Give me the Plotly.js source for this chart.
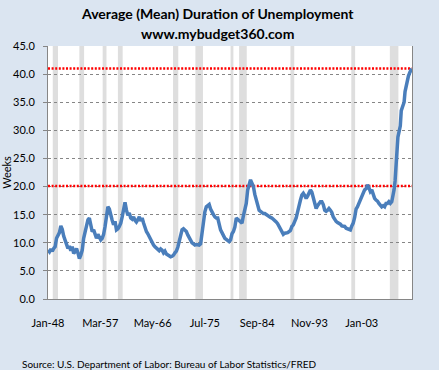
<!DOCTYPE html>
<html>
<head>
<meta charset="utf-8">
<script src="https://cdn.plot.ly/plotly-3.0.1.min.js"></script>
<style>html,body{margin:0;padding:0;background:#DBE5F1;}#chart{width:439px;height:370px;}</style>
</head>
<body>
<div id="chart"></div>
<script>
// Average (mean) duration of unemployment, weeks
var dates = [
"1948-01","1948-04","1948-07","1948-10","1949-01","1949-04","1949-07","1949-10",
"1950-01","1950-04","1950-07","1950-10","1951-01","1951-04","1951-07","1951-10",
"1952-01","1952-04","1952-07","1952-10","1953-01","1953-04","1953-07","1953-10",
"1954-01","1954-04","1954-07","1954-10","1955-01","1955-04","1955-07","1955-10",
"1956-01","1956-04","1956-07","1956-10","1957-01","1957-04","1957-07","1957-10",
"1958-01","1958-04","1958-07","1958-10","1959-01","1959-04","1959-07","1959-10",
"1960-01","1960-04","1960-07","1960-10","1961-01","1961-04","1961-07","1961-10",
"1962-01","1962-04","1962-07","1962-10","1963-01","1963-04","1963-07","1963-10",
"1964-01","1964-04","1964-07","1964-10","1965-01","1965-04","1965-07","1965-10",
"1966-01","1966-04","1966-07","1966-10","1967-01","1967-04","1967-07","1967-10",
"1968-01","1968-04","1968-07","1968-10","1969-01","1969-04","1969-07","1969-10",
"1970-01","1970-04","1970-07","1970-10","1971-01","1971-04","1971-07","1971-10",
"1972-01","1972-04","1972-07","1972-10","1973-01","1973-04","1973-07","1973-10",
"1974-01","1974-04","1974-07","1974-10","1975-01","1975-04","1975-07","1975-10",
"1976-01","1976-04","1976-07","1976-10","1977-01","1977-04","1977-07","1977-10",
"1978-01","1978-04","1978-07","1978-10","1979-01","1979-04","1979-07","1979-10",
"1980-01","1980-04","1980-07","1980-10","1981-01","1981-04","1981-07","1981-10",
"1982-01","1982-04","1982-07","1982-10","1983-01","1983-04","1983-07","1983-10",
"1984-01","1984-04","1984-07","1984-10","1985-01","1985-04","1985-07","1985-10",
"1986-01","1986-04","1986-07","1986-10","1987-01","1987-04","1987-07","1987-10",
"1988-01","1988-04","1988-07","1988-10","1989-01","1989-04","1989-07","1989-10",
"1990-01","1990-04","1990-07","1990-10","1991-01","1991-04","1991-07","1991-10",
"1992-01","1992-04","1992-07","1992-10","1993-01","1993-04","1993-07","1993-10",
"1994-01","1994-04","1994-07","1994-10","1995-01","1995-04","1995-07","1995-10",
"1996-01","1996-04","1996-07","1996-10","1997-01","1997-04","1997-07","1997-10",
"1998-01","1998-04","1998-07","1998-10","1999-01","1999-04","1999-07","1999-10",
"2000-01","2000-04","2000-07","2000-10","2001-01","2001-04","2001-07","2001-10",
"2002-01","2002-04","2002-07","2002-10","2003-01","2003-04","2003-07","2003-10",
"2004-01","2004-04","2004-07","2004-10","2005-01","2005-04","2005-07","2005-10",
"2006-01","2006-04","2006-07","2006-10","2007-01","2007-04","2007-07","2007-10",
"2008-01","2008-04","2008-07","2008-09","2008-11","2009-01","2009-03","2009-05",
"2009-08","2009-10","2009-12","2010-03","2010-06","2010-08","2010-12","2011-03",
"2011-06","2011-10"
];
var weeks = [
8.7,8.4,8.9,8.5, 9.0,9.3,10.8,11.5,
11.8,13.0,12.4,11.2, 10.5,10.0,9.0,9.4,
8.6,9.3,8.1,8.4, 9.0,8.2,7.2,7.8,
8.7,10.8,12.0,13.0, 14.1,14.4,12.8,12.0,
12.3,11.6,10.8,11.5, 11.1,10.5,10.8,11.5,
12.9,15.0,16.4,16.0, 14.6,14.0,13.2,13.8,
12.3,12.5,12.9,13.5, 14.6,16.0,17.2,15.8,
14.9,15.3,14.4,14.2, 14.6,14.0,13.7,14.1,
14.6,13.9,14.4,13.5, 12.6,12.0,11.6,11.0,
10.5,10.2,9.6,9.3, 9.0,8.8,8.6,8.9,
8.7,8.2,8.5,8.0, 7.8,7.6,7.5,7.6,
7.8,8.2,8.5,9.2, 10.5,11.5,12.3,12.5,
12.2,12.0,11.4,10.8, 10.5,10.0,9.8,9.6,
9.7,9.6,9.6,9.8, 12.0,13.5,15.5,16.4,
16.6,16.8,16.0,15.3, 15.0,14.6,14.4,14.4,
13.2,12.3,11.8,11.2, 10.8,10.6,10.4,10.2,
10.5,11.6,12.0,12.8, 14.4,14.2,14.1,13.8,
13.5,14.8,15.8,17.0, 19.4,20.4,21.2,20.6,
20.0,18.6,17.6,16.8, 15.8,15.6,15.3,15.2,
15.2,15.0,14.9,14.6, 14.5,14.4,14.2,13.9,
13.7,13.4,12.9,12.3, 11.7,11.5,11.7,11.7,
11.8,12.0,12.2,12.9, 13.2,13.8,14.4,15.5,
17.0,17.6,18.5,18.8, 18.4,17.9,18.3,18.8,
19.4,19.0,18.2,17.2, 16.1,16.6,16.9,17.3,
17.3,16.8,15.8,15.6, 15.8,16.1,15.8,15.4,
14.6,14.1,13.8,13.6, 13.5,13.3,13.0,13.0,
12.9,12.6,12.5,12.3, 12.3,13.0,13.5,14.5,
16.0,16.4,17.0,17.8, 18.2,18.8,19.4,19.6,
20.3,19.8,19.1,19.4, 18.5,17.9,17.6,17.4,
17.0,16.7,16.4,16.6, 16.4,17.0,17.0,17.3,
17.0,17.3,18.3,19.5,21.0,23.5,26.5,28.8,
30.0,30.8,33.5,34.3,35.0,36.9,39.0,39.6,
40.3,41.0
];
// Red reference levels (weeks)
var refLevels = [41.0, 20.1];
// Recession periods (shaded)
var recStart = ["1948-11","1953-07","1957-08","1960-04","1969-12","1973-11","1980-01","1981-07","1990-07","2001-03","2007-12"];
var recEnd   = ["1949-10","1954-05","1958-04","1961-02","1970-11","1975-03","1980-07","1982-11","1991-03","2001-11","2009-06"];
// Axis tick labels
var tickDates  = ["1948-01","1957-03","1966-05","1975-07","1984-09","1993-11","2003-01"];
var tickLabels = ["Jan-48","Mar-57","May-66","Jul-75","Sep-84","Nov-93","Jan-03"];
var titleLines = ["Average (Mean) Duration of Unemployment", "www.mybudget360.com"];
var sourceText = "Source: U.S. Department of Labor: Bureau of Labor Statistics/FRED";

var xStart = "1948-01-01", xEnd = "2011-10-20";

var traces = [];
refLevels.forEach(function(v){
  traces.push({x:[xStart,xEnd], y:[v,v], mode:'lines', hoverinfo:'skip',
    line:{color:'#FF0000', width:2.5, dash:'2px,1.6px'}, showlegend:false});
});
traces.push({x:dates, y:weeks, mode:'lines', line:{color:'#4A7EBB', width:3.5}, showlegend:false});

var shapes = recStart.map(function(s,i){
  return {type:'rect', xref:'x', yref:'paper', x0:s, x1:recEnd[i], y0:0, y1:1,
    fillcolor:'#DEDEDE', line:{width:0}, layer:'below'};
});

var F = 'Lato, "Noto Sans", sans-serif';
var PH = 253, PW = 364;
var layout = {
  width:439, height:370,
  paper_bgcolor:'#DBE5F1', plot_bgcolor:'#FFFFFF',
  margin:{l:48, r:27, t:46, b:71},
  font:{family:F, color:'#000', size:11},
  xaxis:{type:'date', range:[xStart,xEnd], tickvals:tickDates, ticktext:tickLabels,
    showgrid:false, showline:true, linecolor:'#868686', linewidth:1, ticks:'',
    ticklabelstandoff:14, zeroline:false, tickfont:{size:11, family:F}},
  yaxis:{range:[0,45], dtick:5, tickformat:'.1f', showgrid:true, gridcolor:'#868686', griddash:'dot', gridwidth:1,
    showline:true, linecolor:'#868686', linewidth:1, mirror:true, ticks:'outside', ticklen:4, tickcolor:'#868686',
    ticklabelstandoff:6, zeroline:false, tickfont:{size:11, family:F},
    title:{text:'Weeks', font:{size:11, family:F}, standoff:0}},
  shapes:shapes,
  annotations:[
    {text:'<b>'+titleLines[0]+'</b>', xref:'paper', yref:'paper', x:(217-48)/PW, y:(299-13)/PH,
      xanchor:'center', yanchor:'middle', showarrow:false, font:{size:14, family:F, color:'#000'}},
    {text:'<b>'+titleLines[1]+'</b>', xref:'paper', yref:'paper', x:(217-48)/PW, y:(299-33)/PH,
      xanchor:'center', yanchor:'middle', showarrow:false, font:{size:14, family:F, color:'#000'}},
    {text:sourceText, xref:'paper', yref:'paper',
    x:-28/PW, y:-65/PH, xanchor:'left', yanchor:'middle', showarrow:false, font:{size:10, family:F, color:'#000'}}]
};
Plotly.newPlot('chart', traces, layout, {staticPlot:true, displayModeBar:false});
</script>
</body>
</html>
